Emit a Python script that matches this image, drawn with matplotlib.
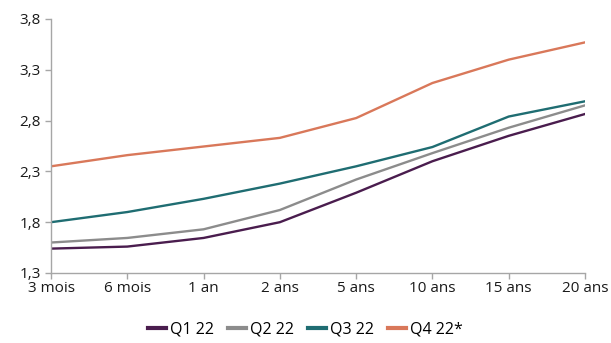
import matplotlib

matplotlib.use("Agg")
import matplotlib.pyplot as plt

plt.rcParams["font.family"] = ["Open Sans", "DejaVu Sans"]

maturities = ["3 mois", "6 mois", "1 an", "2 ans", "5 ans", "10 ans", "15 ans", "20 ans"]
q1_22 = [1.54, 1.56, 1.645, 1.80, 2.09, 2.40, 2.65, 2.865]
q2_22 = [1.60, 1.645, 1.73, 1.92, 2.22, 2.48, 2.73, 2.95]
q3_22 = [1.80, 1.90, 2.03, 2.18, 2.35, 2.54, 2.84, 2.99]
q4_22 = [2.35, 2.46, 2.545, 2.63, 2.825, 3.17, 3.40, 3.57]
y_ticks = [1.3, 1.8, 2.3, 2.8, 3.3, 3.8]

series = [
    ("Q1 22", q1_22, "#4a1d4e"),
    ("Q2 22", q2_22, "#8c8c8c"),
    ("Q3 22", q3_22, "#1f6d72"),
    ("Q4 22*", q4_22, "#d9785a"),
]

fig = plt.figure(figsize=(6.11, 3.43), dpi=100)
ax = fig.add_axes([51 / 611, 1 - 273 / 343, (585 - 51) / 611, (273 - 19) / 343])

x = range(len(maturities))
for label, vals, color in series:
    ax.plot(x, vals, color=color, linewidth=1.7, label=label)

ax.set_xlim(0, len(maturities) - 1)
ax.set_ylim(1.3, 3.8)
ax.set_xticks(list(x))
ax.set_xticklabels(maturities)
ax.set_yticks(y_ticks)
ax.set_yticklabels([f"{t:.1f}".replace(".", ",") for t in y_ticks])

for side in ("top", "right"):
    ax.spines[side].set_visible(False)
for side in ("left", "bottom"):
    ax.spines[side].set_color("#a6a6a6")
    ax.spines[side].set_linewidth(1.0)
ax.tick_params(axis="both", colors="#a6a6a6", labelcolor="#1a1a1a", labelsize=11, length=4, width=1.0)
ax.tick_params(axis="x", pad=2)

leg = fig.legend(
    loc="lower center",
    bbox_to_anchor=(0.5, -0.025),
    ncol=4,
    frameon=False,
    fontsize=11.5,
    handlelength=1.1,
    handletextpad=0.25,
    columnspacing=0.9,
)
for line in leg.get_lines():
    line.set_linewidth(3)

fig.savefig("out.png", dpi=100)
